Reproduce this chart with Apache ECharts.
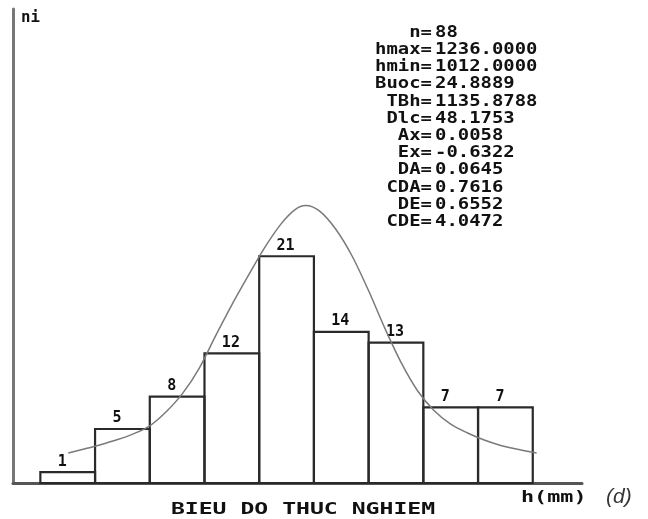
<!DOCTYPE html>
<html>
<head>
<meta charset="utf-8">
<script src="https://cdn.jsdelivr.net/npm/echarts@6/dist/echarts.min.js"></script>
<style>
  html, body { margin: 0; padding: 0; background: #fff; }
  #chart { width: 648px; height: 519px; }
</style>
</head>
<body>
<div id="chart"></div>
<script>
// Class frequencies (ni) for the 9 height classes, left to right
const freq = [1, 5, 8, 12, 21, 14, 13, 7, 7];

// Fitted curve, sampled along the class axis (class i spans [i, i+1])
const curveX = [0.51, 0.8, 1.1, 1.4, 1.7, 2.0, 2.3, 2.6, 2.9, 3.2, 3.5, 3.8, 4.1, 4.4, 4.65, 4.85,
                5.1, 5.4, 5.7, 6.0, 6.3, 6.6, 6.9, 7.2, 7.5, 7.8, 8.1, 8.4, 8.7, 9.07];
const curveY = [2.78, 3.15, 3.55, 4.0, 4.55, 5.3, 6.6, 8.3, 10.6, 13.6, 16.5, 19.2, 21.8, 24.0, 25.3, 25.7,
                25.2, 23.5, 21.0, 17.8, 14.3, 11.1, 8.5, 6.7, 5.45, 4.65, 4.0, 3.5, 3.15, 2.78];

// Summary statistics block
const statNames = ['n=', 'hmax=', 'hmin=', 'Buoc=', 'TBh=', 'Dlc=', 'Ax=', 'Ex=', 'DA=', 'CDA=', 'DE=', 'CDE='];
const statValues = ['88', '1236.0000', '1012.0000', '24.8889', '1135.8788', '48.1753',
                    '0.0058', '-0.6322', '0.0645', '0.7616', '0.6552', '4.0472'];

const yName = 'ni';
const xName = 'h(mm)';
const title = 'BIEU DO THUC NGHIEM';
const panelTag = '(d)';

const MONO = 'bold 15px "DejaVu Sans Mono"';
const chart = echarts.init(document.getElementById('chart'), null, { renderer: 'canvas' });

const graphics = [];
// axis names and title
graphics.push({ type: 'text', x: 21, y: 18, scaleX: 1.05, style: { text: yName, font: MONO, fill: '#111', textAlign: 'left', textVerticalAlign: 'middle' } });
graphics.push({ type: 'text', x: 521, y: 498, scaleX: 1.45, style: { text: xName, font: MONO, fill: '#111', textAlign: 'left', textVerticalAlign: 'middle' } });
graphics.push({ type: 'text', x: 303, y: 510, scaleX: 1.54, style: { text: title, font: MONO, fill: '#111', textAlign: 'center', textVerticalAlign: 'middle' } });
graphics.push({ type: 'text', x: 606, y: 497, style: { text: panelTag, font: 'italic 21px "Liberation Sans"', fill: '#333', textAlign: 'left', textVerticalAlign: 'middle' } });
// statistics block: names right-aligned on '=', values left-aligned after it
statNames.forEach(function (name, i) {
  const y = 33 + i * 17.18;
  graphics.push({ type: 'text', x: 432, y: y, scaleX: 1.26, style: { text: name, font: MONO, fill: '#111', textAlign: 'right', textVerticalAlign: 'middle' } });
  graphics.push({ type: 'text', x: 435, y: y, scaleX: 1.26, style: { text: statValues[i], font: MONO, fill: '#111', textAlign: 'left', textVerticalAlign: 'middle' } });
});

chart.setOption({
  backgroundColor: '#ffffff',
  animation: false,
  grid: { left: 13, right: 66, top: 9, bottom: 36 },
  xAxis: {
    type: 'value', min: -0.5, max: 9.9,
    axisLine: { show: true, onZero: false, lineStyle: { color: '#555', width: 3 } },
    axisTick: { show: false }, axisLabel: { show: false }, splitLine: { show: false }
  },
  yAxis: {
    type: 'value', min: 0, max: 43.9,
    axisLine: { show: true, onZero: false, lineStyle: { color: '#777', width: 3 } },
    axisTick: { show: false }, axisLabel: { show: false }, splitLine: { show: false }
  },
  series: [
    {
      type: 'custom',
      data: freq.map(function (v, i) { return [i, v]; }),
      renderItem: function (params, api) {
        const i = api.value(0), v = api.value(1);
        const p0 = api.coord([i, v]);
        const p1 = api.coord([i + 1, 0]);
        return {
          type: 'group',
          children: [
            { type: 'rect', shape: { x: p0[0], y: p0[1], width: p1[0] - p0[0], height: p1[1] - p0[1] },
              style: { fill: 'none', stroke: '#2a2a2a', lineWidth: 2.2 } },
            { type: 'text', x: (p0[0] + p1[0]) / 2 - 10, y: p0[1] - 3,
              style: { text: String(v), font: MONO, fill: '#111', textAlign: 'left', textVerticalAlign: 'bottom' } }
          ]
        };
      },
      z: 2
    },
    {
      type: 'line',
      data: curveX.map(function (x, i) { return [x, curveY[i]]; }),
      smooth: 0.3,
      showSymbol: false,
      lineStyle: { color: '#7a7a7a', width: 1.5 },
      z: 3
    }
  ],
  graphic: graphics
});
</script>
</body>
</html>
